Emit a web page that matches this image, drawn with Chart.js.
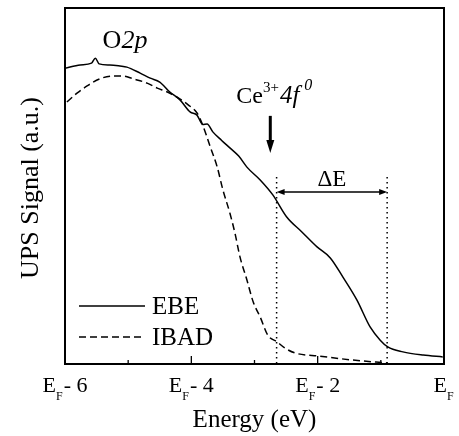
<!DOCTYPE html>
<html>
<head>
<meta charset="utf-8">
<script src="https://cdn.jsdelivr.net/npm/chart.js@4.4.1/dist/chart.umd.min.js"></script>
<style>
  html, body { margin: 0; padding: 0; background: #fff; }
  #wrap { width: 459px; height: 436px; }
</style>
</head>
<body>
<div id="wrap"><canvas id="ups" width="459" height="436"></canvas></div>
<script>
// UPS valence-band spectra (arbitrary units, 0..100) versus energy relative to E_F (eV)
const energyEBE = [-6.00, -5.76, -5.58, -5.52, -5.46, -5.29, -5.13, -5.02, -4.81, -4.65, -4.50, -4.34, -4.18,
  -4.02, -3.91, -3.82, -3.75, -3.66, -3.52, -3.39, -3.25, -3.12, -2.91, -2.71, -2.49, -2.25, -2.01, -1.80,
  -1.60, -1.38, -1.17, -1.01, -0.89, -0.65, -0.33, -0.02];
const signalEBE = [83.1, 84.0, 84.5, 85.9, 84.3, 84.0, 83.7, 83.4, 81.7, 80.3, 79.2, 76.4, 74.2,
  70.8, 69.9, 67.3, 67.4, 65.2, 62.8, 60.7, 58.4, 55.3, 51.7, 47.5, 41.3, 37.1, 32.9, 29.8,
  24.4, 18.0, 10.4, 6.7, 4.8, 3.4, 2.5, 2.0];

const energyIBAD = [-5.97, -5.81, -5.65, -5.45, -5.24, -5.08, -4.92, -4.70, -4.54, -4.38, -4.23, -4.05,
  -3.91, -3.82, -3.70, -3.59, -3.50, -3.39, -3.31, -3.23, -3.12, -3.02, -2.91, -2.79, -2.64, -2.52,
  -2.36, -1.96, -1.44, -0.90];
const signalIBAD = [73.6, 76.1, 78.1, 80.1, 80.9, 80.9, 80.1, 78.9, 77.5, 76.4, 75.0, 72.8,
  70.5, 67.1, 61.0, 55.3, 48.9, 42.4, 36.8, 30.1, 23.6, 17.4, 13.2, 8.1, 6.2, 4.5,
  3.1, 2.2, 1.1, 0.3];

const seriesNames = ['EBE', 'IBAD'];

// energy axis: labelled ticks (E_F - n) and unlabelled ones in between
const majorTicks = [-6, -4, -2, 0];
const majorTickSuffix = ['- 6', '- 4', '- 2', ''];
const minorTicks = [-5, -3, -1];

// band-gap marker: energies of the two dotted lines and the ΔE arrow height
const gapEdges = [-2.65, -0.90];
const gapLineTop = 52.5;
const gapArrowLevel = 48.3;
// Ce3+ 4f0 marker arrow (energy, start signal, end signal)
const ceArrow = { x: -2.75, from: 69.7, to: 59.3 };
// O 2p label anchor
const o2pAnchor = { x: -5.05, y: 88.8 };

const SERIF = '"Liberation Serif", "Times New Roman", serif';

function font(size, italic) {
  return (italic ? 'italic ' : '') + size + 'px ' + SERIF;
}

// draws a run of text pieces [{t, size, italic, dy}] starting at x, baseline y
function drawRuns(ctx, runs, x, y, align) {
  let total = 0;
  runs.forEach(r => { ctx.font = font(r.size, r.italic); r.w = ctx.measureText(r.t).width + (r.gap || 0); total += r.w; });
  let cx = align === 'center' ? x - total / 2 : x;
  ctx.textAlign = 'left';
  ctx.textBaseline = 'alphabetic';
  runs.forEach(r => {
    ctx.font = font(r.size, r.italic);
    ctx.fillText(r.t, cx, y + (r.dy || 0));
    cx += r.w;
  });
}

const decorations = {
  id: 'decorations',
  afterDatasetsDraw(chart) {
    const { ctx, chartArea: a, scales: { x, y } } = chart;
    ctx.save();
    ctx.fillStyle = '#000';
    ctx.strokeStyle = '#000';

    // plot frame
    ctx.lineWidth = 2;
    ctx.strokeRect(a.left, a.top, a.right - a.left, a.bottom - a.top);

    // inward ticks on the energy axis
    ctx.lineWidth = 1.3;
    ctx.beginPath();
    majorTicks.forEach(v => { const px = x.getPixelForValue(v); ctx.moveTo(px, a.bottom); ctx.lineTo(px, a.bottom - 8); });
    minorTicks.forEach(v => { const px = x.getPixelForValue(v); ctx.moveTo(px, a.bottom); ctx.lineTo(px, a.bottom - 4); });
    ctx.stroke();

    // tick labels E_F - n
    majorTicks.forEach((v, i) => {
      const px = x.getPixelForValue(v);
      drawRuns(ctx, [
        { t: 'E', size: 22 },
        { t: 'F', size: 12, dy: 8, gap: 1 },
        { t: majorTickSuffix[i], size: 22 }
      ], px, a.bottom + 28, 'center');
    });

    // axis titles
    ctx.font = font(25);
    ctx.textAlign = 'center';
    ctx.textBaseline = 'alphabetic';
    ctx.fillText('Energy (eV)', (a.left + a.right) / 2, a.bottom + 63);
    ctx.save();
    ctx.translate(a.left - 34, (a.top + a.bottom) / 2 + 2);
    ctx.rotate(-Math.PI / 2);
    ctx.font = font(26);
    ctx.textBaseline = 'middle';
    ctx.fillText('UPS Signal (a.u.)', 0, 0);
    ctx.restore();

    // legend inside the plot, lower left
    const ds = chart.data.datasets;
    const lx0 = a.left + 14, lx1 = a.left + 80;
    [0, 1].forEach(i => {
      const ly = a.bottom - 58 + i * 31;
      ctx.lineWidth = 1.5;
      ctx.setLineDash(ds[i].borderDash || []);
      ctx.beginPath(); ctx.moveTo(lx0, ly); ctx.lineTo(lx1, ly); ctx.stroke();
      ctx.setLineDash([]);
      ctx.font = font(25);
      ctx.textAlign = 'left';
      ctx.textBaseline = 'middle';
      ctx.fillText(ds[i].label, lx1 + 7, ly + 1);
    });

    // dotted band-gap edges
    ctx.lineWidth = 1.5;
    ctx.setLineDash([1.5, 3.5]);
    ctx.beginPath();
    gapEdges.forEach(e => {
      const px = x.getPixelForValue(e);
      ctx.moveTo(px, y.getPixelForValue(gapLineTop));
      ctx.lineTo(px, a.bottom);
    });
    ctx.stroke();
    ctx.setLineDash([]);

    // ΔE double arrow
    const gx0 = x.getPixelForValue(gapEdges[0]), gx1 = x.getPixelForValue(gapEdges[1]);
    const gy = y.getPixelForValue(gapArrowLevel);
    ctx.lineWidth = 1.5;
    ctx.beginPath(); ctx.moveTo(gx0 + 3, gy); ctx.lineTo(gx1 - 3, gy); ctx.stroke();
    ctx.beginPath();
    ctx.moveTo(gx0, gy); ctx.lineTo(gx0 + 8, gy - 3); ctx.lineTo(gx0 + 8, gy + 3); ctx.closePath();
    ctx.moveTo(gx1, gy); ctx.lineTo(gx1 - 8, gy - 3); ctx.lineTo(gx1 - 8, gy + 3); ctx.closePath();
    ctx.fill();
    ctx.font = font(23);
    ctx.textAlign = 'center';
    ctx.textBaseline = 'alphabetic';
    ctx.fillText('\u0394E', (gx0 + gx1) / 2, gy - 6);

    // Ce3+ 4f0 arrow and label
    const cx = x.getPixelForValue(ceArrow.x);
    const cy0 = y.getPixelForValue(ceArrow.from), cy1 = y.getPixelForValue(ceArrow.to);
    ctx.lineWidth = 3;
    ctx.beginPath(); ctx.moveTo(cx, cy0); ctx.lineTo(cx, cy1 - 10); ctx.stroke();
    ctx.beginPath();
    ctx.moveTo(cx, cy1); ctx.lineTo(cx - 4, cy1 - 13); ctx.lineTo(cx + 4, cy1 - 13); ctx.closePath();
    ctx.fill();
    drawRuns(ctx, [
      { t: 'Ce', size: 24 },
      { t: '3+', size: 15, dy: -11, gap: 1 },
      { t: '4', size: 25, italic: true },
      { t: 'f', size: 25, italic: true, gap: 5 },
      { t: '0', size: 16, italic: true, dy: -13 }
    ], cx - 34, cy0 - 13, 'left');

    // O 2p label
    drawRuns(ctx, [
      { t: 'O', size: 26 },
      { t: '2', size: 26, italic: true },
      { t: 'p', size: 26, italic: true }
    ], x.getPixelForValue(o2pAnchor.x), y.getPixelForValue(o2pAnchor.y), 'center');

    ctx.restore();
  }
};

new Chart(document.getElementById('ups'), {
  type: 'line',
  data: {
    datasets: [
      {
        label: seriesNames[0],
        data: energyEBE.map((e, i) => ({ x: e, y: signalEBE[i] })),
        borderColor: '#000',
        borderWidth: 1.5,
        pointRadius: 0,
        cubicInterpolationMode: 'monotone',
        fill: false
      },
      {
        label: seriesNames[1],
        data: energyIBAD.map((e, i) => ({ x: e, y: signalIBAD[i] })),
        borderColor: '#000',
        borderWidth: 1.5,
        borderDash: [7, 4],
        pointRadius: 0,
        cubicInterpolationMode: 'monotone',
        fill: false
      }
    ]
  },
  options: {
    responsive: false,
    animation: false,
    devicePixelRatio: 1,
    layout: { padding: { left: 65, right: 15, top: 8, bottom: 72 } },
    plugins: { legend: { display: false }, tooltip: { enabled: false } },
    scales: {
      x: { type: 'linear', min: -6, max: 0, display: false },
      y: { type: 'linear', min: 0, max: 100, display: false }
    }
  },
  plugins: [decorations]
});
</script>
</body>
</html>
